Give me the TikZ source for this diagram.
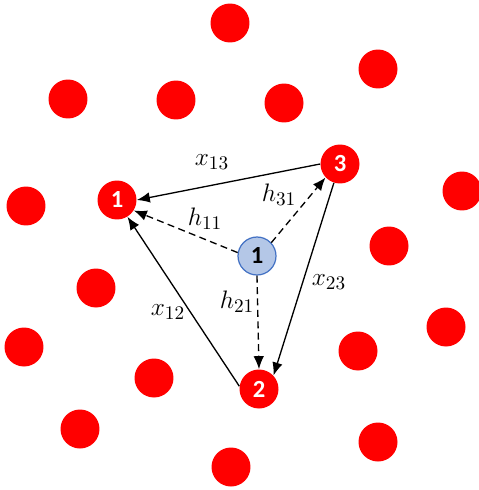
\documentclass[tikz,border=0pt]{standalone}
\usepackage{fontspec}
\usepackage{tikz}
\usetikzlibrary{arrows.meta}
\newfontfamily\numfont{Carlito}

\definecolor{dotred}{RGB}{255,0,0}
\definecolor{bsfill}{RGB}{180,199,231}
\definecolor{bsline}{RGB}{68,114,196}

\begin{document}
\begin{tikzpicture}[
  x=0.02cm,y=-0.02cm,
  dot/.style={circle,fill=dotred,minimum size=0.78cm,inner sep=0pt},
  usr/.style={dot,text=white,font=\numfont\fontsize{14}{16}\selectfont\bfseries},
  bs/.style={circle,draw=bsline,fill=bsfill,line width=0.7pt,minimum size=0.76cm,inner sep=0pt,font=\numfont\fontsize{14}{16}\selectfont\bfseries},
  lbl/.style={font=\fontsize{15}{17}\selectfont,inner sep=1pt},
  arr/.style={-{Latex[length=2.6mm,width=2.1mm]},line width=0.75pt},
  darr/.style={arr,dash pattern=on 4pt off 2.5pt}
]
\useasboundingbox (0,0) rectangle (479,490);

% background users
\node[dot] (d1) at (230,23) {};
\node[dot] (d2) at (378,69) {};
\node[dot] (d3) at (68,99) {};
\node[dot] (d4) at (176,100) {};
\node[dot] (d5) at (284,103) {};
\node[dot] (d6) at (462,191) {};
\node[dot] (d7) at (26,206) {};
\node[dot] (d8) at (389,246) {};
\node[dot] (d9) at (96,288) {};
\node[dot] (d10) at (446,327) {};
\node[dot] (d11) at (24,347) {};
\node[dot] (d12) at (358,351) {};
\node[dot] (d13) at (154,378) {};
\node[dot] (d14) at (80,429) {};
\node[dot] (d15) at (378,442) {};
\node[dot] (d16) at (231,467) {};

% selected users and station
\node[usr] (u1) at (117,200) {1};
\node[usr] (u2) at (259,389) {2};
\node[usr] (u3) at (340,164) {3};
\node[bs] (b1) at (257,256) {1};

% links
\draw[arr] (u3.180) -- (u1.east);
\draw[arr] (u2.172) -- (u1.-58);
\draw[arr] (u3.252) -- (u2.43);
\draw[darr] (b1.170) -- (u1.-32);
\draw[darr] (b1.43) -- (u3.223);
\draw[darr] (b1.south) -- (u2.north);

% labels
\node[lbl] (lx13) at (212,162) {$x_{13}$};
\node[lbl] (lh31) at (279,195) {$h_{31}$};
\node[lbl] (lh11) at (205,219) {$h_{11}$};
\node[lbl] (lh21) at (237,302) {$h_{21}$};
\node[lbl] (lx12) at (168,312) {$x_{12}$};
\node[lbl] (lx23) at (329,282) {$x_{23}$};
\end{tikzpicture}
\end{document}
